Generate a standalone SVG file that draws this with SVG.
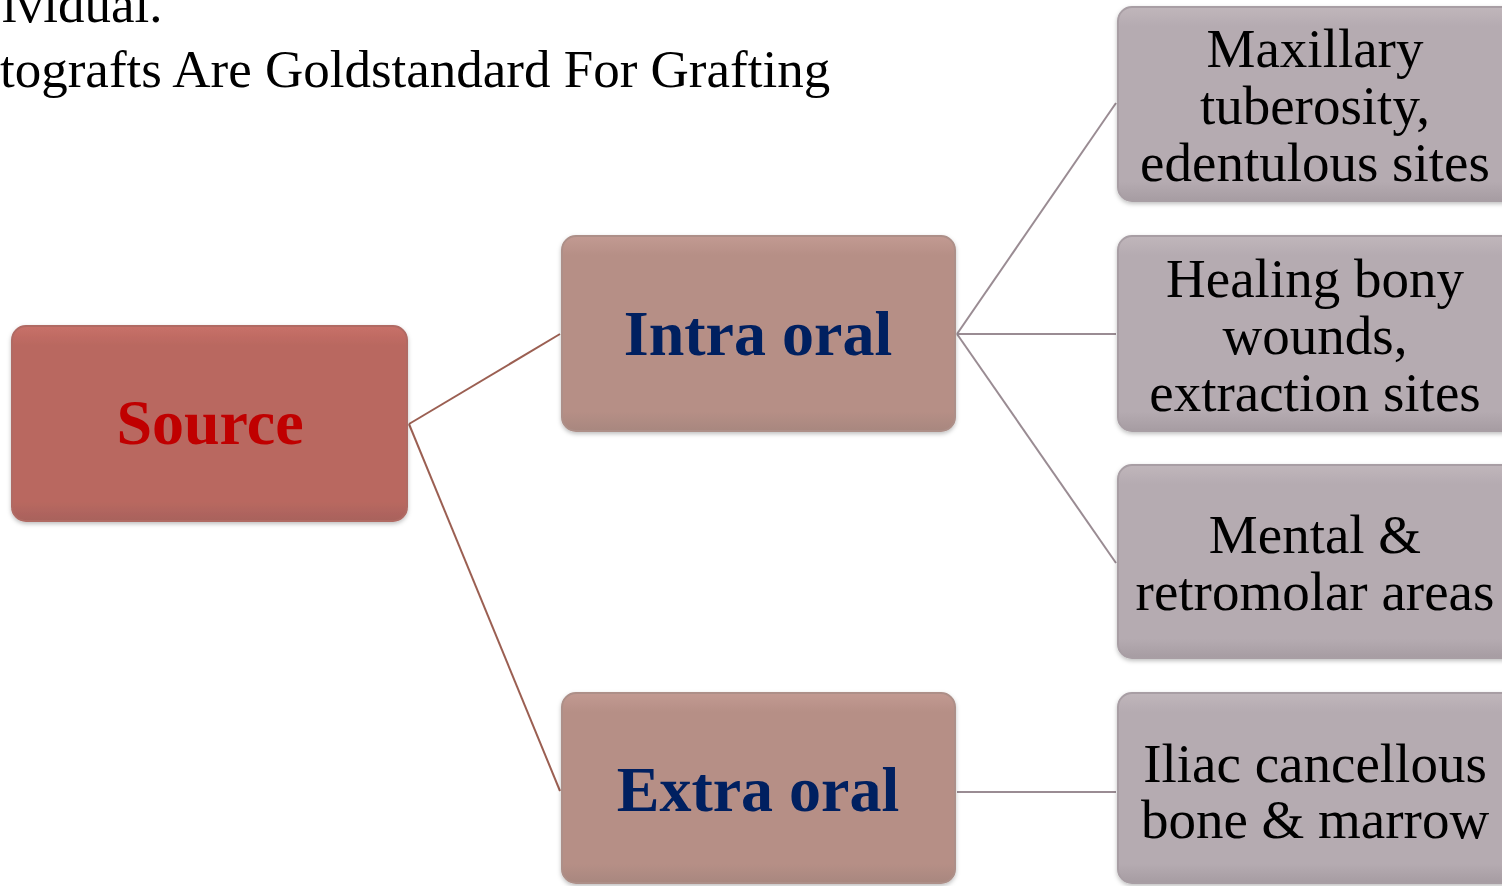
<svg xmlns="http://www.w3.org/2000/svg" width="1502" height="886" viewBox="0 0 1502 886">
<style>
.hdr{font-family:"Liberation Serif","Times New Roman",serif;font-size:53px;fill:#000}
.lvl1{font-family:"Liberation Serif","Times New Roman",serif;font-size:64px;font-weight:bold;text-anchor:middle}
.leaf{font-family:"Liberation Serif","Times New Roman",serif;font-size:55px;fill:#000;text-anchor:middle}
.c1{stroke:#9b5f52;stroke-width:2;fill:none}
.c2{stroke:#9a8c93;stroke-width:2;fill:none}
</style>
<defs>
<filter id="sh" x="-5%" y="-5%" width="110%" height="115%">
<feDropShadow dx="0" dy="2" stdDeviation="2" flood-color="#000" flood-opacity="0.25"/>
</filter>
<linearGradient id="gSrc" x1="0" y1="0" x2="0" y2="1">
<stop offset="0" stop-color="#c87068"/><stop offset="0.1" stop-color="#b96860"/><stop offset="0.9" stop-color="#b96860"/><stop offset="1" stop-color="#a8625c"/>
</linearGradient>
<linearGradient id="gMid" x1="0" y1="0" x2="0" y2="1">
<stop offset="0" stop-color="#c29a92"/><stop offset="0.1" stop-color="#b68f86"/><stop offset="0.9" stop-color="#b68f86"/><stop offset="1" stop-color="#a8877f"/>
</linearGradient>
<linearGradient id="gLeaf" x1="0" y1="0" x2="0" y2="1">
<stop offset="0" stop-color="#c0b6bb"/><stop offset="0.1" stop-color="#b5abb1"/><stop offset="0.9" stop-color="#b5abb1"/><stop offset="1" stop-color="#a69ca2"/>
</linearGradient>
</defs>

<g id="header">
<text class="hdr" x="2" y="22">ividual.</text>
<text class="hdr" x="0" y="87">tografts Are Goldstandard For Grafting</text>
</g>

<g id="connectors">
<line class="c1" x1="409" y1="424" x2="560" y2="334"/>
<line class="c1" x1="409" y1="424" x2="560" y2="791"/>
<line class="c2" x1="957" y1="334" x2="1116" y2="103"/>
<line class="c2" x1="957" y1="334" x2="1116" y2="334"/>
<line class="c2" x1="957" y1="334" x2="1116" y2="563"/>
<line class="c2" x1="957" y1="792" x2="1116" y2="792"/>
</g>

<g id="source">
<rect x="12" y="326" width="395" height="195" rx="14" fill="url(#gSrc)" stroke="#b06a64" stroke-width="2" filter="url(#sh)"/>
<text class="lvl1" x="210" y="444" fill="#c00000">Source</text>
</g>

<g id="intra">
<rect x="562" y="236" width="393" height="195" rx="14" fill="url(#gMid)" stroke="#ad8f88" stroke-width="2" filter="url(#sh)"/>
<text class="lvl1" x="758" y="355" fill="#002060">Intra oral</text>
</g>

<g id="extra">
<rect x="562" y="693" width="393" height="190" rx="14" fill="url(#gMid)" stroke="#ad8f88" stroke-width="2" filter="url(#sh)"/>
<text class="lvl1" x="758" y="811" fill="#002060">Extra oral</text>
</g>

<g id="leaf1">
<rect x="1118" y="7" width="400" height="194" rx="14" fill="url(#gLeaf)" stroke="#a89ea4" stroke-width="2" filter="url(#sh)"/>
<text class="leaf" x="1315" y="67">Maxillary</text>
<text class="leaf" x="1315" y="124">tuberosity,</text>
<text class="leaf" x="1315" y="181">edentulous sites</text>
</g>

<g id="leaf2">
<rect x="1118" y="236" width="400" height="195" rx="14" fill="url(#gLeaf)" stroke="#a89ea4" stroke-width="2" filter="url(#sh)"/>
<text class="leaf" x="1315" y="297">Healing bony</text>
<text class="leaf" x="1315" y="354">wounds,</text>
<text class="leaf" x="1315" y="411">extraction sites</text>
</g>

<g id="leaf3">
<rect x="1118" y="465" width="400" height="193" rx="14" fill="url(#gLeaf)" stroke="#a89ea4" stroke-width="2" filter="url(#sh)"/>
<text class="leaf" x="1315" y="553">Mental &amp;</text>
<text class="leaf" x="1315" y="610">retromolar areas</text>
</g>

<g id="leaf4">
<rect x="1118" y="693" width="400" height="190" rx="14" fill="url(#gLeaf)" stroke="#a89ea4" stroke-width="2" filter="url(#sh)"/>
<text class="leaf" x="1315" y="782">Iliac cancellous</text>
<text class="leaf" x="1315" y="838">bone &amp; marrow</text>
</g>
</svg>
